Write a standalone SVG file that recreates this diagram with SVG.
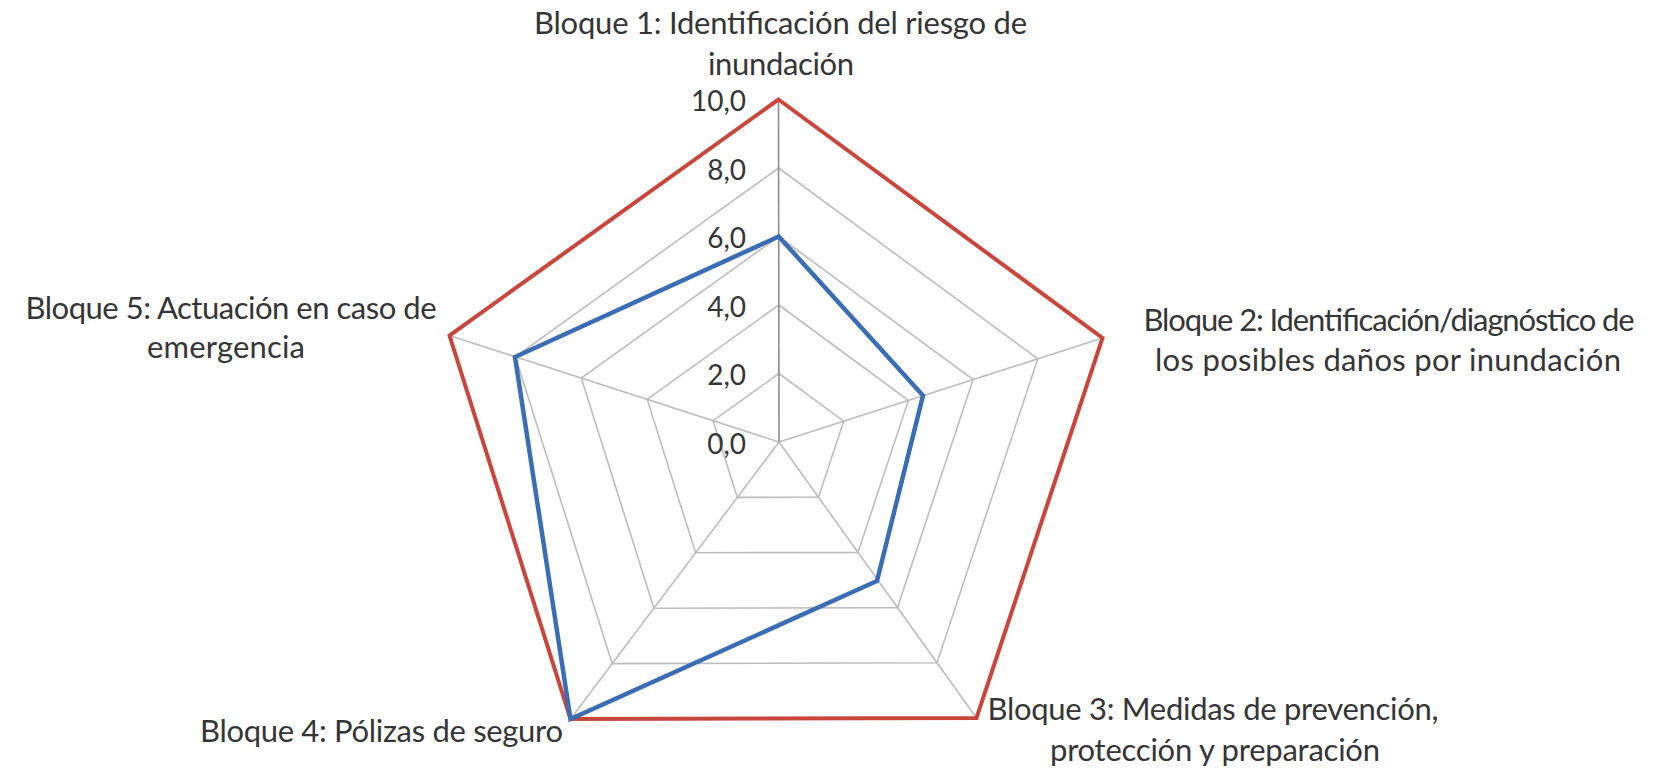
<svg xmlns="http://www.w3.org/2000/svg" width="1661" height="769" viewBox="0 0 1661 769">
<style>
.grid{fill:none;stroke:#bdbdbd;stroke-width:1.6}
.axis{fill:none;stroke:#8c8c8c;stroke-width:1.6}
.lbl{font-family:Lato,"Liberation Sans",sans-serif;font-size:31px;fill:#353535;text-anchor:middle}
.tick{font-family:Lato,"Liberation Sans",sans-serif;font-size:28px;fill:#353535;text-anchor:end}
.max{fill:none;stroke:#c9463d;stroke-width:4;stroke-linejoin:miter}
.val{fill:none;stroke:#3a6db4;stroke-width:4.5;stroke-linejoin:miter}
</style>
<rect width="1661" height="769" fill="#ffffff"/>
<g id="grid">
<polygon class="grid" points="778.9,373.5 843.7,421.2 818.5,497.2 737.3,497.4 713.1,420.7"/>
<polygon class="grid" points="778.8,305 908.4,400.4 858,552.4 695.6,552.8 647.2,399.4"/>
<polygon class="grid" points="778.7,236.5 973.1,379.6 897.5,607.6 653.9,608.2 581.3,378.1"/>
<polygon class="grid" points="778.6,168 1037.8,358.8 937,662.8 612.2,663.6 515.4,356.8"/>
<line class="grid" x1="779" y1="442" x2="1102.5" y2="338"/>
<line class="grid" x1="779" y1="442" x2="976.5" y2="718"/>
<line class="grid" x1="779" y1="442" x2="570.5" y2="719"/>
<line class="grid" x1="779" y1="442" x2="449.5" y2="335.5"/>
<line class="axis" x1="779" y1="442" x2="778.5" y2="99.5"/>
</g>
<g id="ticks">
<text class="tick" x="746" y="111">10,0</text>
<text class="tick" x="746" y="179.5">8,0</text>
<text class="tick" x="746" y="248">6,0</text>
<text class="tick" x="746" y="316.5">4,0</text>
<text class="tick" x="746" y="385">2,0</text>
<text class="tick" x="746" y="453.5">0,0</text>
</g>
<g id="connectors">
<polygon id="series-max" class="max" points="778.5,99.5 1102.5,338 976.5,718 570.5,719 449.5,335.5"/>
<polygon id="series-value" class="val" points="778.7,236.5 923,395.5 877,581 570.5,719 515,357"/>
</g>
<g id="node-bloque1">
<text class="lbl" x="780.5" y="34" textLength="493">Bloque 1: Identificación del riesgo de</text>
<text class="lbl" x="781" y="75" textLength="146">inundación</text>
</g>
<g id="node-bloque2">
<text class="lbl" x="1389" y="331" textLength="491">Bloque 2: Identificación/diagnóstico de</text>
<text class="lbl" x="1388" y="371" textLength="466">los posibles daños por inundación</text>
</g>
<g id="node-bloque3">
<text class="lbl" x="1213" y="720" textLength="451">Bloque 3: Medidas de prevención,</text>
<text class="lbl" x="1215" y="761" textLength="330">protección y preparación</text>
</g>
<g id="node-bloque4">
<text class="lbl" x="381.5" y="742" textLength="363">Bloque 4: Pólizas de seguro</text>
</g>
<g id="node-bloque5">
<text class="lbl" x="231" y="319" textLength="411">Bloque 5: Actuación en caso de</text>
<text class="lbl" x="226" y="358" textLength="158">emergencia</text>
</g>
</svg>
